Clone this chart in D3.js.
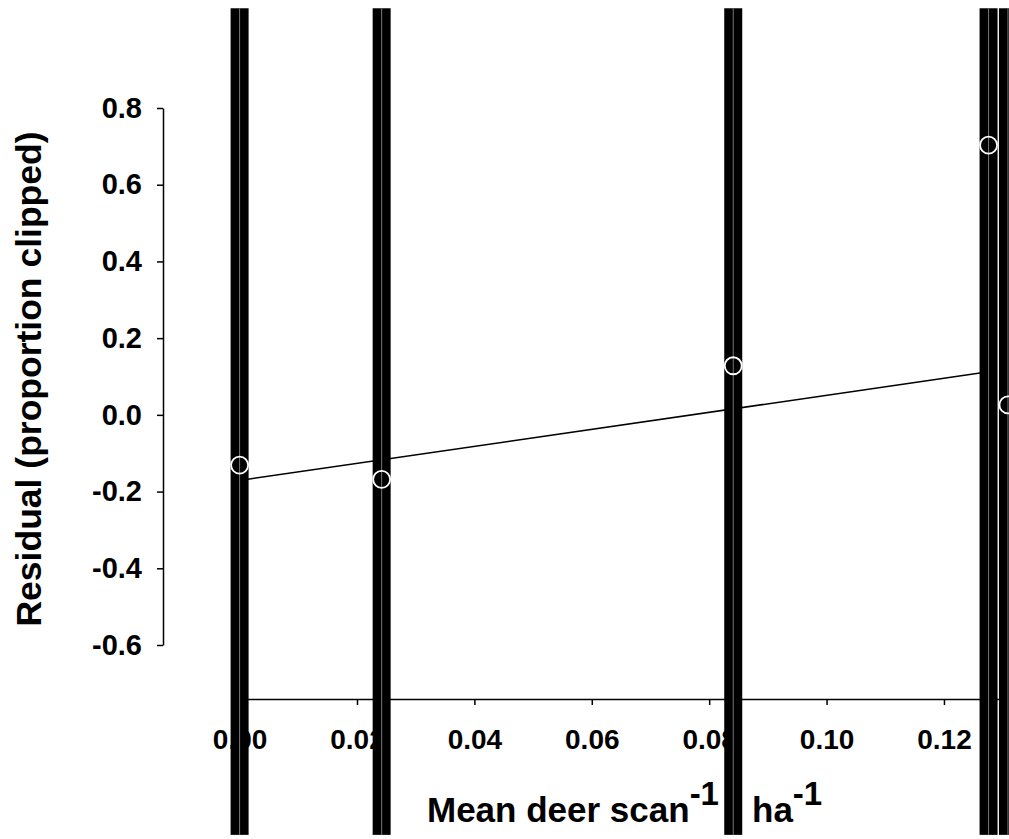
<!DOCTYPE html>
<html>
<head>
<meta charset="utf-8">
<script src="https://cdn.jsdelivr.net/npm/d3@7"></script>
<style>
  html, body { margin: 0; padding: 0; background: #fff; }
  svg { display: block; }
  text { font-family: "Liberation Sans", Arial, sans-serif; font-weight: bold; fill: #000; }
</style>
</head>
<body>
<svg id="chart" width="1009" height="839"></svg>
<script>
// ---- data ----
const pointX = [0.0000, 0.0242, 0.0841, 0.1276, 0.1309];
const pointY = [-0.131, -0.168, 0.128, 0.703, 0.026];
const barLow = [-1.095, -1.095, -1.095, -1.095, -1.095];
const barHigh = [1.06, 1.06, 1.06, 1.06, 1.06];
const fitIntercept = -0.171;
const fitSlope = 2.22;
const fitRange = [0, 0.1276];
const xTicks = [0.00, 0.02, 0.04, 0.06, 0.08, 0.10, 0.12];
const yTicks = [-0.6, -0.4, -0.2, 0.0, 0.2, 0.4, 0.6, 0.8];
const yTitle = "Residual (proportion clipped)";

const svg = d3.select("#chart");

const x = d3.scaleLinear().domain([0, 0.132]).range([239.6, 1014.4]);
const y = d3.scaleLinear().domain([-0.6, 0.8]).range([645, 108]);

// regression line (under everything)
svg.append("line")
  .attr("x1", x(fitRange[0])).attr("y1", y(fitIntercept + fitSlope * fitRange[0]))
  .attr("x2", x(fitRange[1])).attr("y2", y(fitIntercept + fitSlope * fitRange[1]))
  .attr("stroke", "#000").attr("stroke-width", 1.5);

// x axis
const xAxis = svg.append("g")
  .attr("transform", `translate(0,${699})`)
  .call(d3.axisBottom(x).tickValues(xTicks).tickFormat(d => d.toFixed(2)).tickSize(6).tickSizeOuter(0).tickPadding(24));
xAxis.select(".domain").attr("stroke", "#000").attr("stroke-width", 1.5);
xAxis.selectAll(".tick line").attr("stroke", "#000").attr("stroke-width", 1.5);
xAxis.selectAll("text").attr("font-size", 28).attr("font-family", "Liberation Sans, Arial, sans-serif").attr("font-weight", "bold");

// y axis
const yAxis = svg.append("g")
  .attr("transform", `translate(${163},0)`)
  .call(d3.axisLeft(y).tickValues(yTicks).tickFormat(d => d.toFixed(1)).tickSize(6).tickSizeOuter(0).tickPadding(15));
yAxis.select(".domain").attr("stroke", "#000").attr("stroke-width", 1.5);
yAxis.selectAll(".tick line").attr("stroke", "#000").attr("stroke-width", 1.5);
yAxis.selectAll("text").attr("font-size", 29).attr("font-family", "Liberation Sans, Arial, sans-serif").attr("font-weight", "bold");

// axis titles
svg.append("text")
  .attr("transform", `translate(${41},${379}) rotate(-90)`)
  .attr("text-anchor", "middle")
  .attr("font-size", 35.5)
  .text(yTitle);

const xt = svg.append("text")
  .attr("x", 427).attr("y", 822)
  .attr("font-size", 35);
xt.append("tspan").text("Mean deer scan");
xt.append("tspan").attr("font-size", 33).attr("dy", -17).text("-1");
xt.append("tspan").attr("x", 728).attr("dy", 17).text("\u00b7");
xt.append("tspan").attr("x", 752).text("ha");
xt.append("tspan").attr("font-size", 33).attr("dy", -17).text("-1");

// very wide error bars (drawn over axes)
const bars = svg.append("g");
pointX.forEach((px, i) => {
  bars.append("rect")
    .attr("x", x(px) - 9).attr("width", 18)
    .attr("y", y(barHigh[i])).attr("height", y(barLow[i]) - y(barHigh[i]))
    .attr("fill", "#000");
  bars.append("line")
    .attr("x1", x(px)).attr("x2", x(px))
    .attr("y1", y(barHigh[i])).attr("y2", y(barLow[i]))
    .attr("stroke", "#777").attr("stroke-width", 1);
});

// points
svg.append("g").selectAll("circle")
  .data(pointX.map((px, i) => [px, pointY[i]]))
  .join("circle")
  .attr("cx", d => x(d[0])).attr("cy", d => y(d[1]))
  .attr("r", 8.5)
  .attr("fill", "none")
  .attr("stroke", "#fff").attr("stroke-width", 1.8);
</script>
</body>
</html>
